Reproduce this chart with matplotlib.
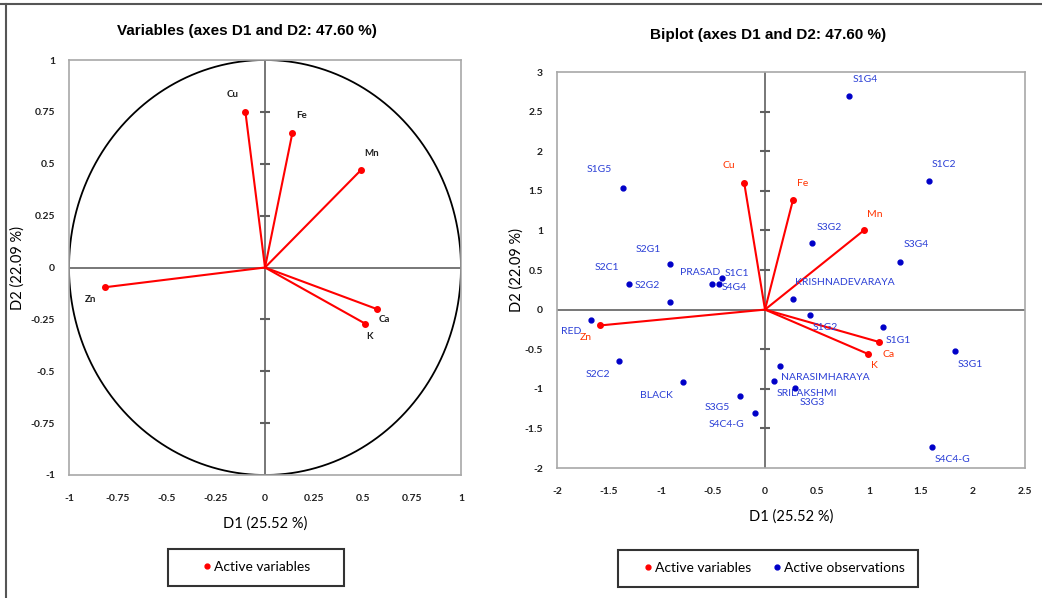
import numpy as np
import matplotlib.pyplot as plt
from matplotlib.lines import Line2D
from matplotlib.ticker import FuncFormatter

# correlation circle (variables)
var_names = ['Cu', 'Fe', 'Mn', 'Zn', 'Ca', 'K']
var_d1 = [-0.10, 0.14, 0.49, -0.815, 0.57, 0.51]
var_d2 = [0.75, 0.65, 0.47, -0.095, -0.20, -0.27]

# biplot: variable vectors
bi_d1 = [-0.20, 0.27, 0.95, -1.585, 1.10, 0.99]
bi_d2 = [1.60, 1.39, 1.00, -0.20, -0.41, -0.56]

# biplot: observations
obs_names = ['S1G4', 'S1C2', 'S3G2', 'S3G4', 'KRISHNADEVARAYA', 'S1G5', 'S2G1',
             'S2C1', 'S2G2', 'PRASAD', 'S1C1', 'S4G4', 'RED', 'S2C2', 'BLACK',
             'S3G5', 'S4C4-G', 'S1G2', 'S1G1', 'S3G1', 'NARASIMHARAYA',
             'SRILAKSHMI', 'S3G3', 'S4C4-G']
obs_d1 = [0.81, 1.58, 0.45, 1.30, 0.27, -1.37, -0.91,
          -1.31, -0.91, -0.51, -0.41, -0.44, -1.67, -1.40, -0.79,
          -0.24, -0.10, 0.43, 1.13, 1.83, 0.14,
          0.09, 0.29, 1.61]
obs_d2 = [2.70, 1.62, 0.84, 0.60, 0.14, 1.54, 0.57,
          0.32, 0.09, 0.32, 0.40, 0.32, -0.13, -0.65, -0.92,
          -1.09, -1.30, -0.07, -0.22, -0.52, -0.71,
          -0.90, -0.99, -1.73]

# label placement in pixels (dx, dy) from the point
var_off = [(-13, 17), (9, 17), (11, 16), (-15, -12), (8, -10), (5, -13)]
bi_var_off = [(-15, 17), (10, 16), (11, 16), (-14, -12), (9, -12), (6, -12)]
obs_off = [(16, 16), (15, 17), (17, 16), (16, 18), (52, 16), (-23, 18), (-22, 15),
           (-22, 17), (-23, 17), (-12, 12), (15, 4), (15, -3), (-20, -12), (-22, -13), (-26, -13),
           (-23, -12), (-28, -12), (16, -12), (16, -13), (15, -14), (46, -12),
           (33, -13), (17, -14), (20, -13)]

W, H = 1042, 598
fig = plt.figure(figsize=(W / 100, H / 100), dpi=100)

FAM = ['Lato', 'DejaVu Sans']
lab_font = dict(family=FAM, size=10.5)
title_font = dict(family=['Liberation Sans Narrow', 'Liberation Sans'], size=11, weight='bold')
RED = '#ff0000'
BLUE = '#0000c8'
BLUE_TXT = '#2b3fd6'
fmt = FuncFormatter(lambda v, p: ('%g' % round(v, 2)))


def ax_at(x0, y0, x1, y1):
    return fig.add_axes([x0 / W, 1 - y1 / H, (x1 - x0) / W, (y1 - y0) / H])


def style(ax, xt, yt):
    for s in ax.spines.values():
        s.set_color('#a8a8a8')
        s.set_linewidth(1.2)
    ax.set_xticks(xt)
    ax.set_yticks(yt)
    ax.xaxis.set_major_formatter(fmt)
    ax.yaxis.set_major_formatter(fmt)
    ax.tick_params(length=0, labelcolor='#202020')
    ax.tick_params(axis='x', pad=14)
    ax.tick_params(axis='y', pad=10)
    for t in ax.get_xticklabels() + ax.get_yticklabels():
        t.set_fontfamily(FAM)
        t.set_fontsize(7.5)
        t.set_fontweight('bold')
    ax.axhline(0, color='#606060', lw=1.2, zorder=1)
    ax.axvline(0, color='#606060', lw=1.2, zorder=1)
    # small ticks along the vertical zero line
    ys = [y for y in yt if abs(y) > 1e-9 and yt[0] < y < yt[-1]]
    ax.plot([0] * len(ys), ys, ls='none', marker='_', ms=7, mew=1.5, color='#606060', zorder=1)


# ---- left: correlation circle
ax1 = ax_at(69, 60, 461, 475)
ax1.set_xlim(-1, 1)
ax1.set_ylim(-1, 1)
style(ax1, np.arange(-1, 1.01, 0.25), np.arange(-1, 1.01, 0.25))
th = np.linspace(0, 2 * np.pi, 400)
ax1.plot(np.cos(th), np.sin(th), color='black', lw=1.3, zorder=2)
for n, x, y, o in zip(var_names, var_d1, var_d2, var_off):
    ax1.plot([0, x], [0, y], color=RED, lw=1.5, zorder=3)
    ax1.plot(x, y, 'o', color=RED, ms=4, zorder=4)
    ax1.annotate(n, (x, y), xytext=o, textcoords='offset pixels', ha='center', va='center',
                 fontsize=7, fontweight='bold', family=FAM, color='#202020')
ax1.set_title('Variables (axes D1 and D2: 47.60 %)', pad=18, x=0.455, **title_font)
ax1.set_xlabel('D1 (25.52 %)', labelpad=9, **lab_font)
ax1.set_ylabel('D2 (22.09 %)', labelpad=4, **lab_font)

# ---- right: biplot
ax2 = ax_at(557, 72, 1025, 468)
ax2.set_xlim(-2, 2.5)
ax2.set_ylim(-2, 3)
style(ax2, np.arange(-2, 2.51, 0.5), np.arange(-2, 3.01, 0.5))
for n, x, y, o in zip(var_names, bi_d1, bi_d2, bi_var_off):
    ax2.plot([0, x], [0, y], color=RED, lw=1.5, zorder=3)
    ax2.plot(x, y, 'o', color=RED, ms=4, zorder=4)
    ax2.annotate(n, (x, y), xytext=o, textcoords='offset pixels', ha='center', va='center',
                 fontsize=7.5, family=FAM, color='#ff3300')
ax2.plot(obs_d1, obs_d2, 'o', color=BLUE, ms=3.5, ls='none', zorder=4)
for n, x, y, o in zip(obs_names, obs_d1, obs_d2, obs_off):
    ax2.annotate(n, (x, y), xytext=o, textcoords='offset pixels', ha='center', va='center',
                 fontsize=7.5, family=FAM, color=BLUE_TXT)
ax2.set_title('Biplot (axes D1 and D2: 47.60 %)', pad=24, x=0.451, **title_font)
ax2.set_xlabel('D1 (25.52 %)', labelpad=9, **lab_font)
ax2.set_ylabel('D2 (22.09 %)', labelpad=1, **lab_font)

# legends
h_var = Line2D([], [], ls='none', marker='o', ms=3.5, color=RED, label='Active variables')
h_var1 = Line2D([], [], ls='none', marker='o', ms=3.5, color=RED, label='Active variables      ')
h_obs = Line2D([], [], ls='none', marker='o', ms=3.5, color=BLUE, label='Active observations')
leg_kw = dict(frameon=True, fancybox=False, edgecolor='black',
              borderpad=0.9, prop={'family': FAM, 'size': 10})
l1 = fig.legend(handles=[h_var1], loc='center', bbox_to_anchor=(256 / W, 1 - 567 / H),
                handlelength=3.8, handletextpad=-1.4, **leg_kw)
l1.get_frame().set_linewidth(1.5)
l2 = fig.legend(handles=[h_var, h_obs], loc='center', ncol=2, columnspacing=0.7,
                handlelength=2.4, handletextpad=-0.7, bbox_to_anchor=(768 / W, 1 - 568 / H), **leg_kw)
l2.get_frame().set_linewidth(1.5)

# outer frame lines
fig.add_artist(Line2D([0, 1], [1 - 4 / H, 1 - 4 / H], color='#555555', lw=1.5))
fig.add_artist(Line2D([6 / W, 6 / W], [0, 1 - 4 / H], color='#555555', lw=1.5))

fig.savefig('out.png', dpi=100)
